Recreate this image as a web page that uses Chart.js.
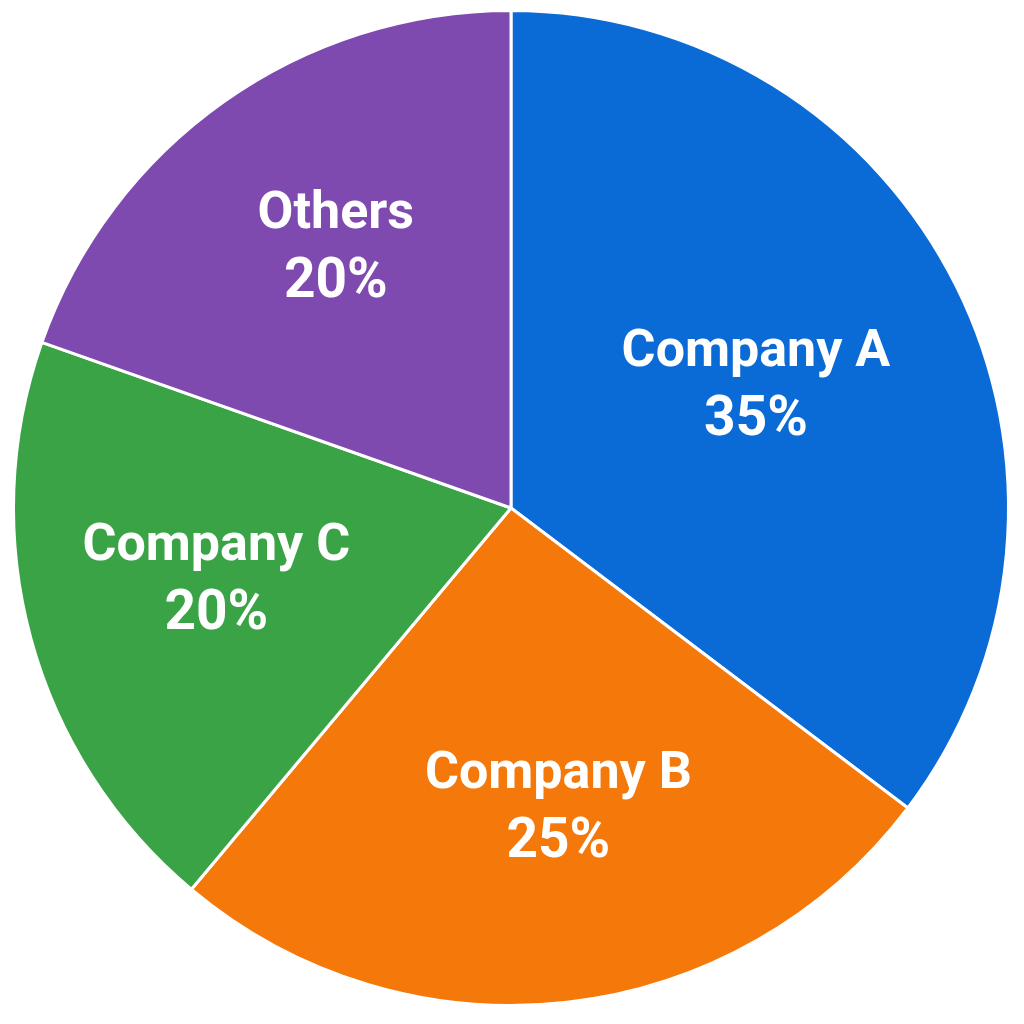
<!DOCTYPE html>
<html>
<head>
<meta charset="utf-8">
<script src="https://cdn.jsdelivr.net/npm/chart.js@4"></script>
<style>
  html, body { margin: 0; padding: 0; background: #ffffff; }
  #wrap { width: 1024px; height: 1024px; }
</style>
</head>
<body>
<div id="wrap"><canvas id="grafico-pizza"></canvas></div>
<script>
const categorias = ['Company A', 'Company B', 'Company C', 'Others'];
// tamanho das fatias como desenhadas na imagem
const valores = [35.3, 25.8, 19.3, 19.6];
// percentagens escritas nos rótulos
const percentagens = ['35%', '25%', '20%', '20%'];
const cores = ['#0a6ad6', '#f5780a', '#3aa346', '#7e4aaf'];

// rótulos desenhados dentro de cada fatia (nome + percentagem)
const rotulosPlugin = {
    id: 'rotulos',
    afterDatasetsDraw(chart, args, opts) {
        const ctx = chart.ctx;
        const meta = chart.getDatasetMeta(0);
        ctx.save();
        ctx.fillStyle = '#ffffff';
        ctx.textAlign = 'center';
        ctx.textBaseline = 'middle';
        meta.data.forEach((arc, i) => {
            const p = arc.getProps(['x', 'y', 'startAngle', 'endAngle', 'outerRadius'], true);
            const meio = (p.startAngle + p.endAngle) / 2 + opts.desvio[i] * Math.PI / 180;
            const r = p.outerRadius * opts.raio[i];
            const x = p.x + Math.cos(meio) * r;
            const y = p.y + Math.sin(meio) * r;
            ctx.font = 'bold 52px Roboto, "Liberation Sans", sans-serif';
            ctx.fillText(categorias[i], x, y - 33);
            ctx.font = 'bold 55px Roboto, "Liberation Sans", sans-serif';
            ctx.fillText(percentagens[i], x, y + 35);
        });
        ctx.restore();
    }
};

const ctx = document.getElementById('grafico-pizza').getContext('2d');
new Chart(ctx, {
    type: 'pie',
    data: {
        labels: categorias,
        datasets: [{
            data: valores,
            backgroundColor: cores,
            borderColor: '#ffffff',
            borderWidth: 3
        }]
    },
    options: {
        responsive: true,
        maintainAspectRatio: false,
        animation: false,
        layout: {
            padding: { top: 9, bottom: 17, left: 12, right: 14 }
        },
        plugins: {
            legend: { display: false },
            tooltip: { enabled: false },
            rotulos: { raio: [0.55, 0.61, 0.61, 0.63], desvio: [0, -2.5, 1.5, 1.3] }
        }
    },
    plugins: [rotulosPlugin]
});
</script>
</body>
</html>
